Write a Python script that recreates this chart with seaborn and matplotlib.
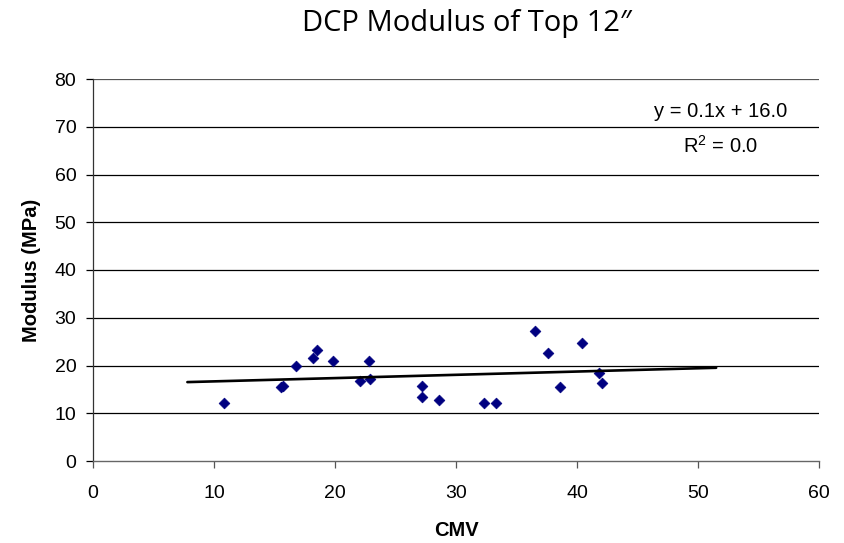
import numpy as np
import pandas as pd
import matplotlib
matplotlib.use("Agg")
import matplotlib.pyplot as plt
import seaborn as sns

# CMV readings and DCP modulus of the top 12 inches (MPa)
cmv = [10.8, 15.5, 15.7, 16.8, 18.2, 18.5, 19.8, 22.1, 22.8, 22.9, 27.2,
       27.2, 28.6, 32.3, 33.3, 36.5, 37.6, 38.6, 40.4, 41.8, 42.1]
modulus = [12.1, 15.6, 15.7, 20.0, 21.5, 23.2, 20.9, 16.8, 20.9, 17.1, 15.7,
           13.4, 12.8, 12.1, 12.1, 27.3, 22.7, 15.4, 24.8, 18.4, 16.3]

# trendline drawn with backward/forward forecast over this CMV span
trend_span = [7.8, 51.5]

x_ticks = [0, 10, 20, 30, 40, 50, 60]
y_ticks = [0, 10, 20, 30, 40, 50, 60, 70, 80]

df = pd.DataFrame({"CMV": cmv, "Modulus (MPa)": modulus})

sns.set_theme(style="white")
plt.rcParams["font.family"] = ["Liberation Sans", "DejaVu Sans"]
plt.rcParams["text.color"] = "black"
plt.rcParams["axes.labelcolor"] = "black"
plt.rcParams["mathtext.fontset"] = "custom"
plt.rcParams["mathtext.rm"] = "Liberation Sans"
plt.rcParams["mathtext.it"] = "Liberation Sans:italic"

fig = plt.figure(figsize=(8.45, 5.43), dpi=100)
ax = fig.add_axes([93 / 845, 1 - 461 / 543, 726 / 845, 382 / 543])

# horizontal gridlines
for yv in y_ticks[1:]:
    ax.axhline(yv, color="black" if yv < 80 else "#555555", lw=0.9, zorder=0)

sns.scatterplot(data=df, x="CMV", y="Modulus (MPa)", ax=ax, marker="D",
                s=30, color="#000080", edgecolor="#000080", linewidth=0.5,
                zorder=3)

# least-squares linear fit
slope, intercept = np.polyfit(df["CMV"], df["Modulus (MPa)"], 1)
pred = slope * df["CMV"] + intercept
ss_res = np.sum((df["Modulus (MPa)"] - pred) ** 2)
ss_tot = np.sum((df["Modulus (MPa)"] - df["Modulus (MPa)"].mean()) ** 2)
r2 = 1 - ss_res / ss_tot
tx = np.array(trend_span)
sns.lineplot(x=tx, y=slope * tx + intercept, ax=ax, color="black", lw=1.9,
             zorder=4)

ax.text(0.864, 0.915, f"y = {slope:.1f}x + {intercept:.1f}", transform=ax.transAxes,
        ha="center", va="center", fontsize=14.5, color="black")
ax.text(0.864, 0.825, f"R$^2$ = {r2:.1f}", transform=ax.transAxes,
        ha="center", va="center", fontsize=14.5, color="black")

ax.set_xlim(0, 60)
ax.set_ylim(0, 80)
ax.set_xticks(x_ticks)
ax.set_yticks(y_ticks)
ax.tick_params(axis="both", labelsize=14, colors="black")
ax.tick_params(axis="x", direction="out", length=5, width=0.9, pad=12,
               color="#555555", bottom=True)
ax.tick_params(axis="y", direction="out", length=5, width=0.9, pad=7,
               left=True)

for side in ["top", "right"]:
    ax.spines[side].set_visible(False)
ax.spines["left"].set_color("#333333")
ax.spines["left"].set_linewidth(0.9)
ax.spines["bottom"].set_color("#666666")
ax.spines["bottom"].set_linewidth(1.0)

ax.set_xlabel("CMV", fontsize=14.5, fontweight="bold", labelpad=14)
ax.set_ylabel("Modulus (MPa)", fontsize=14.5, fontweight="bold", labelpad=10)

fig.text(467 / 845, 1 - 23 / 543, "DCP Modulus of Top 12\u2033",
         ha="center", va="center", fontsize=21, family=["Open Sans", "DejaVu Sans"],
         color="black")

fig.savefig("out.png", dpi=100)
